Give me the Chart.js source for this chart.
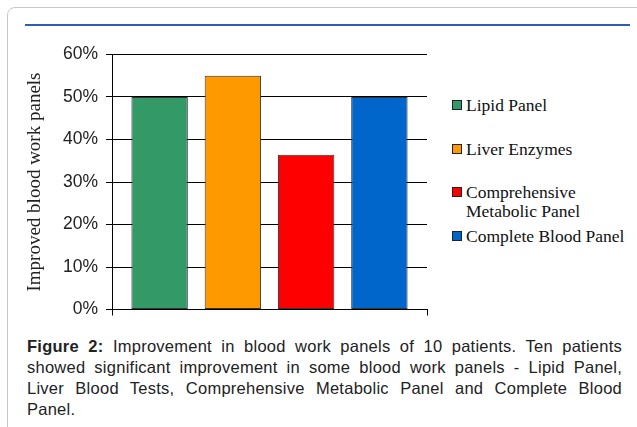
<!DOCTYPE html>
<html>
<head>
<meta charset="utf-8">
<script src="https://cdn.jsdelivr.net/npm/chart.js@4"></script>
<style>
  html, body { margin: 0; padding: 0; background: #fff; }
  body { width: 637px; height: 427px; position: relative; overflow: hidden; }
  #frame {
    position: absolute; left: 7px; top: 7px; width: 660px; height: 460px;
    border: 1px solid #c8c8c8; border-radius: 8px; box-sizing: border-box;
  }
  #rule { position: absolute; left: 25px; top: 24px; width: 605px; height: 0; border-top: 2px solid #2e5fae; }
  #wrap { position: absolute; left: 0; top: 36px; width: 440px; height: 292px; }
  #legend { position: absolute; left: 452px; top: 96px; font-family: "Liberation Serif", serif; font-size: 17.5px; color: #111; }
  .item { position: absolute; left: 0; white-space: nowrap; line-height: 19px; }
  .box { display: inline-block; width: 8px; height: 8px; border: 1px solid #222; margin-right: 4px; vertical-align: 1px; }
  .sub { padding-left: 14px; }
  #caption {
    position: absolute; left: 27px; top: 336px; width: 595px;
    font-family: "Liberation Sans", Arial, sans-serif; font-size: 16.5px; line-height: 21px;
    letter-spacing: 0.25px; color: #222;
  }
  #caption div { white-space: nowrap; text-align: justify; text-align-last: justify; }
  #caption div:last-child { text-align-last: left; }
</style>
</head>
<body>
<div id="frame"></div>
<div id="rule"></div>
<div id="wrap"><canvas id="myChart"></canvas></div>
<div id="legend"></div>
<div id="caption">
  <div><b>Figure 2:</b> Improvement in blood work panels of 10 patients. Ten patients</div>
  <div>showed significant improvement in some blood work panels - Lipid Panel,</div>
  <div>Liver Blood Tests, Comprehensive Metabolic Panel and Complete Blood</div>
  <div>Panel.</div>
</div>
<script>
const categorias = ["Lipid Panel", "Liver Enzymes", "Comprehensive Metabolic Panel", "Complete Blood Panel"];
const legendLines = [["Lipid Panel"], ["Liver Enzymes"], ["Comprehensive", "Metabolic Panel"], ["Complete Blood Panel"]];
const valores = [50, 55, 36.4, 50];
const colores = ["#339966", "#ff9900", "#ff0000", "#0066cc"];
const yTicks = [0, 10, 20, 30, 40, 50, 60];
const yTitulo = "Improved blood work panels";

// leyenda en html
const legend = document.querySelector("#legend");
const legendTops = [0, 44, 87, 131];
legendLines.forEach((lines, i) => {
    const div = document.createElement("div");
    div.className = "item";
    div.style.top = legendTops[i] + "px";
    div.innerHTML = `<span class="box" style="background:${colores[i]}"></span>${lines[0]}` +
        lines.slice(1).map(l => `<div class="sub">${l}</div>`).join("");
    legend.appendChild(div);
});

const ctx = document.querySelector("#myChart");
const chart = new Chart(ctx, {
    type: "bar",
    data: {
        datasets: [{
            data: valores.map((v, i) => ({ x: i, y: v })),
            backgroundColor: colores,
            borderColor: "#333",
            borderWidth: 1,
            borderSkipped: false,
            barPercentage: 0.77,
            categoryPercentage: 1
        }]
    },
    options: {
        responsive: true,
        maintainAspectRatio: false,
        animation: false,
        layout: { padding: { top: 14, right: 13, bottom: 0, left: 0 } },
        plugins: { legend: { display: false }, tooltip: { enabled: false } },
        scales: {
            x: {
                type: "linear",
                min: -0.65,
                max: 3.65,
                offset: false,
                afterBuildTicks: (s) => { s.ticks = [{ value: -0.65 }, { value: 3.65 }]; },
                ticks: { display: false },
                grid: { display: true, offset: false, drawOnChartArea: false, drawTicks: true, tickLength: 6, color: "#000" },
                border: { display: true, color: "#000" }
            },
            y: {
                min: 0,
                max: 60,
                afterBuildTicks: (s) => { s.ticks = yTicks.map(v => ({ value: v })); },
                afterFit: (s) => { s.width = 112; },
                ticks: {
                    color: "#222",
                    font: { family: "Liberation Sans", size: 17.5 },
                    padding: 8,
                    callback: (v) => v + "%"
                },
                grid: { color: "#000", lineWidth: 1, tickLength: 6, drawTicks: true },
                border: { color: "#000" },
                title: {
                    display: true,
                    text: yTitulo,
                    color: "#222",
                    font: { family: "Liberation Serif", size: 19 },
                    padding: { top: 24 }
                }
            }
        }
    }
});
</script>
</body>
</html>
